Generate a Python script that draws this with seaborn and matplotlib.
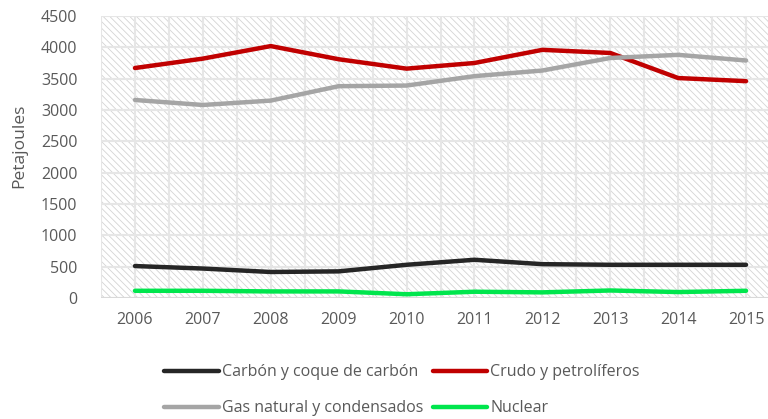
import matplotlib
matplotlib.use("Agg")
import matplotlib.pyplot as plt
import seaborn as sns
import pandas as pd
from matplotlib.patches import Rectangle

years = [2006, 2007, 2008, 2009, 2010, 2011, 2012, 2013, 2014, 2015]
carbon = [510, 470, 415, 425, 530, 610, 540, 530, 530, 530]
crudo = [3670, 3820, 4020, 3810, 3660, 3750, 3960, 3910, 3510, 3460]
gas = [3160, 3080, 3150, 3380, 3390, 3540, 3630, 3830, 3880, 3790]
nuclear = [115, 115, 105, 105, 60, 100, 90, 120, 95, 115]
series_names = ["Carbón y coque de carbón", "Crudo y petrolíferos",
                "Gas natural y condensados", "Nuclear"]
colors = ["#262626", "#c00000", "#a5a5a5", "#00e64d"]
yticks = [0, 500, 1000, 1500, 2000, 2500, 3000, 3500, 4000, 4500]

rows = []
for name, vals in zip(series_names, [carbon, crudo, gas, nuclear]):
    for y, v in zip(years, vals):
        rows.append({"Año": y, "Petajoules": v, "Serie": name})
df = pd.DataFrame(rows)

sns.set_style("white")
plt.rcParams['font.family'] = ['Open Sans', 'DejaVu Sans']
plt.rcParams['hatch.linewidth'] = 0.6
txt = "#595959"

fig = plt.figure(figsize=(7.68, 4.19), dpi=100)
W, H = 768, 419
left, right, top, bottom = 101, 768, 16, 298
ax = fig.add_axes([left / W, 1 - bottom / H, (right - left) / W, (bottom - top) / H])

# hatched background
ax.patch.set_facecolor("white")
bg = Rectangle((0, 0), 1, 1, transform=ax.transAxes, facecolor="white",
               edgecolor="#d4d4d4", hatch="\\\\\\\\\\", linewidth=0, zorder=0)
ax.add_patch(bg)

sns.lineplot(data=df, x="Año", y="Petajoules", hue="Serie", palette=colors,
             hue_order=series_names, linewidth=3.2, ax=ax, legend=True, zorder=5)

x0 = 2005.5
x1 = x0 + (right - left) / 67.9
ax.set_xlim(x0, x1)
ax.set_ylim(0, 4500)
ax.set_yticks(yticks)
ax.set_xticks(years)
ax.grid(False)
for xv in [x0 + 0.5 * i for i in range(0, 21)]:
    ax.axvline(xv, color="#e6e6e6", lw=1.5, zorder=1)
for yv in yticks:
    ax.axhline(yv, color="#e6e6e6", lw=1.5, zorder=1)
ax.axhline(0, color="#d9d9d9", lw=2.2, zorder=2)

for s in ax.spines.values():
    s.set_visible(False)
ax.tick_params(axis="both", which="both", length=0, labelsize=11.5, labelcolor=txt)
ax.tick_params(axis="y", pad=17)
ax.tick_params(axis="x", pad=10)
ax.set_xlabel("")
ax.set_ylabel("Petajoules", fontsize=12.5, color=txt)
ax.yaxis.set_label_coords(-0.11, 0.54)

handles, labels = ax.get_legend_handles_labels()
ax.legend_.remove()
order = [0, 2, 1, 3]
leg = fig.legend([handles[i] for i in order], [labels[i] for i in order],
                 ncol=2, loc="upper left",
                 bbox_to_anchor=(150 / W, 1 - 350 / H), frameon=False,
                 fontsize=11.5, handlelength=3.4, handletextpad=0.2,
                 columnspacing=0.6, labelspacing=1.25)
for t in leg.get_texts():
    t.set_color(txt)
for l in leg.get_lines():
    l.set_linewidth(3.2)

fig.savefig("out.png", dpi=100)
